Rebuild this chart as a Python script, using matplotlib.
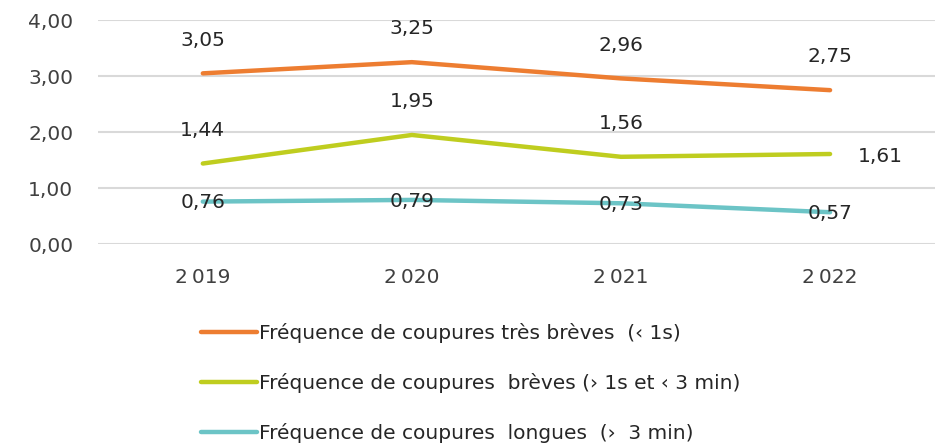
import matplotlib.pyplot as plt

# Données
annees = ['2019', '2020', '2021', '2022']
tres_breves = [3.05, 3.25, 2.96, 2.75]
breves = [1.44, 1.95, 1.56, 1.61]
longues = [0.76, 0.79, 0.73, 0.57]

labels = ['Fréquence de coupures très brèves  (‹ 1s)',
          'Fréquence de coupures  brèves (› 1s et ‹ 3 min)',
          'Fréquence de coupures  longues  (›  3 min)']
couleurs = ['#ED7D31', '#BFCD1F', '#6CC4C6']

def fmt(v):
    return f'{v:.2f}'.replace('.', ',')

plt.rcParams['font.family'] = ['DejaVu Sans']
fig = plt.figure(figsize=(9.45, 4.48), dpi=100)
ax = fig.add_axes([0.104, 0.455, 0.885, 0.5])

x = range(len(annees))
for serie, c, lab in zip([tres_breves, breves, longues], couleurs, labels):
    ax.plot(x, serie, color=c, linewidth=3.2, solid_capstyle='round', label=lab, zorder=3)

fs = 14.5
# Étiquettes de valeurs
for i, v in enumerate(tres_breves):
    ax.annotate(fmt(v), (i, v), xytext=(0, 24), textcoords='offset points',
                ha='center', va='center', fontsize=fs, color='#262626')
for i, v in enumerate(breves):
    if i == 3:
        ax.annotate(fmt(v), (i, v), xytext=(20, -2), textcoords='offset points',
                    ha='left', va='center', fontsize=fs, color='#262626')
    else:
        ax.annotate(fmt(v), (i, v), xytext=(0, 24), textcoords='offset points',
                    ha='center', va='center', fontsize=fs, color='#262626')
for i, v in enumerate(longues):
    ax.annotate(fmt(v), (i, v), xytext=(0, -1), textcoords='offset points',
                ha='center', va='center', fontsize=fs, color='#262626', zorder=4)

ax.set_xlim(-0.5, 3.5)
ax.set_ylim(0, 4)
ax.set_yticks([0, 1, 2, 3, 4])
ax.set_yticklabels([fmt(v) for v in [0, 1, 2, 3, 4]], fontsize=fs, color='#404040')
ax.set_xticks(list(x))
ax.set_xticklabels([a[0] + '\u2009' + a[1:] for a in annees], fontsize=fs, color='#404040')
ax.tick_params(axis='x', length=0, pad=17)
ax.tick_params(axis='y', length=0, pad=18)
ax.grid(axis='y', color='#D9D9D9', linewidth=1.5)
ax.set_axisbelow(True)
for s in ax.spines.values():
    s.set_visible(False)

fig.legend(loc='upper left', bbox_to_anchor=(0.193, 0.32), frameon=False,
           fontsize=fs, handlelength=2.8, handletextpad=0.1, labelspacing=1.5,
           labelcolor='#262626')

fig.savefig('out.png', dpi=100)
